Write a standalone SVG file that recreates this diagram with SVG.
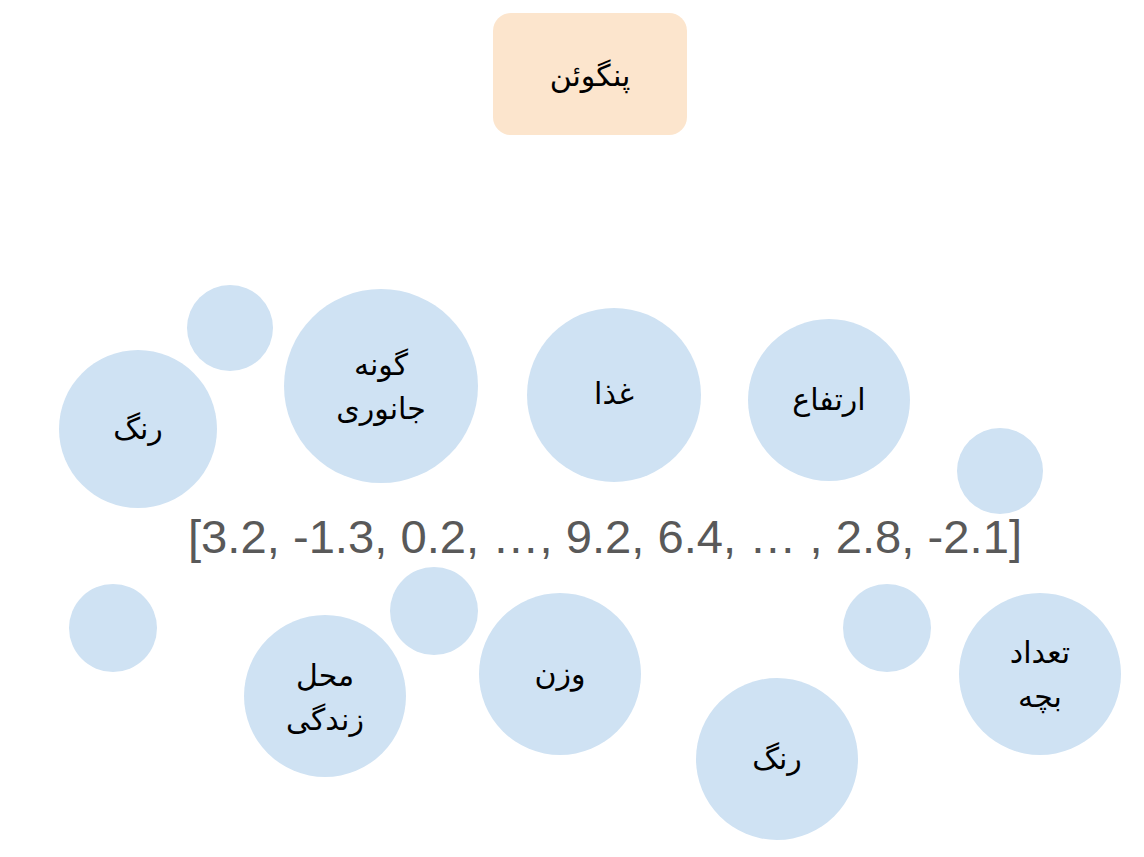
<svg xmlns="http://www.w3.org/2000/svg" width="1144" height="857" viewBox="0 0 1144 857">
<style>
.c{fill:#cfe2f3;stroke:none}
.t{font-family:"Liberation Sans","DejaVu Sans",sans-serif;font-size:30px;fill:#000;text-anchor:middle}
.v{font-family:"Liberation Sans",Arial,sans-serif;font-size:46px;fill:#595959;text-anchor:middle}
</style>
<rect width="1144" height="857" fill="#ffffff"/>
<g id="penguin"><rect x="493" y="13" width="194" height="122" rx="18" fill="#fce5cd"/><text class="t" x="590" y="86" direction="rtl">پنگوئن</text></g>
<g id="s1"><circle class="c" cx="230" cy="328" r="43"/></g>
<g id="rang1"><circle class="c" cx="138" cy="429" r="79"/><text class="t" x="138" y="439" direction="rtl">رنگ</text></g>
<g id="gooneh"><circle class="c" cx="381" cy="386" r="97"/><text class="t" x="381" y="375" direction="rtl">گونه</text><text class="t" x="381" y="419" direction="rtl">جانوری</text></g>
<g id="ghaza"><circle class="c" cx="614" cy="395" r="87"/><text class="t" x="614" y="404" direction="rtl">غذا</text></g>
<g id="ertefa"><circle class="c" cx="829" cy="400" r="81"/><text class="t" x="829" y="410" direction="rtl">ارتفاع</text></g>
<g id="s2"><circle class="c" cx="1000" cy="471" r="43"/></g>
<g id="s3"><circle class="c" cx="113" cy="628" r="44"/></g>
<g id="s4"><circle class="c" cx="434" cy="611" r="44"/></g>
<g id="mahal"><circle class="c" cx="325" cy="696" r="81"/><text class="t" x="325" y="686" direction="rtl">محل</text><text class="t" x="325" y="730" direction="rtl">زندگی</text></g>
<g id="vazn"><circle class="c" cx="560" cy="674" r="81"/><text class="t" x="560" y="684" direction="rtl">وزن</text></g>
<g id="s5"><circle class="c" cx="887" cy="628" r="44"/></g>
<g id="rang2"><circle class="c" cx="777" cy="759" r="81"/><text class="t" x="777" y="769" direction="rtl">رنگ</text></g>
<g id="tedad"><circle class="c" cx="1040" cy="674" r="81"/><text class="t" x="1040" y="663" direction="rtl">تعداد</text><text class="t" x="1040" y="707" direction="rtl">بچه</text></g>
<g id="connectors"></g>
<g id="vector"><text class="v" x="605" y="553" textLength="834" lengthAdjust="spacingAndGlyphs">[3.2, -1.3, 0.2, …, 9.2, 6.4, … , 2.8, -2.1]</text></g>
</svg>
